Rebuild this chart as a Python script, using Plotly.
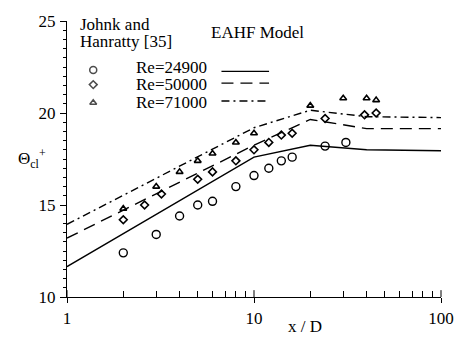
import plotly.graph_objects as go

# ---- data ----
circ_x = [2, 3, 4, 5, 6, 8, 10, 12, 14, 16, 24, 31]
circ_y = [12.4, 13.4, 14.4, 15.0, 15.2, 16.0, 16.6, 17.0, 17.4, 17.6, 18.2, 18.4]
dia_x = [2, 2.6, 3.2, 5, 6, 8, 10, 12, 14, 16, 24, 39, 45]
dia_y = [14.2, 15.0, 15.6, 16.4, 16.8, 17.4, 18.0, 18.4, 18.8, 18.9, 19.7, 19.9, 20.0]
tri_x = [2, 3, 4, 5, 6, 8, 10, 20, 30, 40, 45]
tri_y = [14.8, 16.0, 16.8, 17.4, 17.8, 18.4, 18.9, 20.4, 20.8, 20.8, 20.7]

model_x = [1, 10, 20, 40, 100]
sol_y = [11.65, 17.6, 18.25, 18.0, 17.95]
dash_y = [13.2, 18.25, 19.65, 19.15, 19.15]
dd_y = [13.95, 19.2, 20.15, 19.8, 19.75]

re_labels = ["Re=24900", "Re=50000", "Re=71000"]
x_ticks = [1, 10, 100]
y_ticks = [10, 15, 20, 25]

FONT = "Liberation Serif"
W, H = 466, 340
L, R, T, B = 67, 14, 15, 43
PW, PH = W - L - R, H - T - B


def px(x):
    return (x - L) / PW


def py(y):
    return (H - B - y) / PH


fig = go.Figure()

line_w = 1.4
fig.add_trace(go.Scatter(x=model_x, y=sol_y, mode="lines",
                         line=dict(color="black", width=line_w), showlegend=False))
fig.add_trace(go.Scatter(x=model_x, y=dash_y, mode="lines",
                         line=dict(color="black", width=line_w, dash="12px,7px"), showlegend=False))
fig.add_trace(go.Scatter(x=model_x, y=dd_y, mode="lines",
                         line=dict(color="black", width=line_w, dash="8px,4px,2px,4px"), showlegend=False))
fig.add_trace(go.Scatter(x=circ_x, y=circ_y, mode="markers",
                         marker=dict(symbol="circle-open", size=8, color="black", line=dict(width=1.4)),
                         showlegend=False))
fig.add_trace(go.Scatter(x=dia_x, y=dia_y, mode="markers",
                         marker=dict(symbol="diamond-open", size=6, color="black", line=dict(width=1.6)),
                         showlegend=False))
fig.add_trace(go.Scatter(x=tri_x, y=tri_y, mode="markers",
                         marker=dict(symbol="triangle-up-open", size=6, color="black", line=dict(width=1.6)),
                         showlegend=False))

# ---- legend (overlay axis in pixel coordinates) ----
mark_rows = [65, 80, 98.5]
line_rows = [66.5, 78.5, 96.7]
text_rows = [62, 80, 98]
fig.add_trace(go.Scatter(x=[94, 94, 94], y=mark_rows, mode="markers", xaxis="x2", yaxis="y2",
                         marker=dict(symbol=["circle-open", "diamond-open", "triangle-up-open"],
                                     size=[7, 6, 6], color="black", line=dict(width=1.5)),
                         showlegend=False, cliponaxis=False))
for yy, d in zip(line_rows, ["solid", "12px,7px", "8px,4px,2px,4px"]):
    fig.add_trace(go.Scatter(x=[226, 275], y=[yy, yy], mode="lines", xaxis="x2", yaxis="y2",
                             line=dict(color="black", width=line_w, dash=d),
                             showlegend=False, cliponaxis=False))

ann = []
ann.append(dict(text="Johnk and", x=px(78), y=py(19), xref="paper", yref="paper",
                xanchor="left", yanchor="middle", showarrow=False, font=dict(size=17)))
ann.append(dict(text="Hanratty [35]", x=px(78), y=py(36), xref="paper", yref="paper",
                xanchor="left", yanchor="middle", showarrow=False, font=dict(size=17)))
ann.append(dict(text="EAHF Model", x=px(213), y=py(27), xref="paper", yref="paper",
                xanchor="left", yanchor="middle", showarrow=False, font=dict(size=17)))
for yy, lab in zip(text_rows, re_labels):
    ann.append(dict(text=lab, x=px(136), y=py(yy), xref="paper", yref="paper",
                    xanchor="left", yanchor="middle", showarrow=False, font=dict(size=17)))
ann.append(dict(text="x / D", x=px(312), y=py(327), xref="paper", yref="paper",
                xanchor="center", yanchor="middle", showarrow=False, font=dict(size=17)))
ann.append(dict(text="Θ<sub>cl</sub><sup>+</sup>", x=px(31), y=py(155), xref="paper", yref="paper",
                xanchor="center", yanchor="middle", showarrow=False, font=dict(size=17)))

# inside parts of the major x ticks
shapes = []
for xv in [0, 0.5, 1]:
    shapes.append(dict(type="line", xref="paper", yref="paper", x0=xv, x1=xv, y0=0, y1=7 / PH,
                       line=dict(color="black", width=1)))

fig.update_layout(
    width=W, height=H,
    margin=dict(l=L, r=R, t=T, b=B),
    paper_bgcolor="white", plot_bgcolor="white",
    font=dict(family=FONT, size=17, color="black"),
    annotations=ann, shapes=shapes,
    xaxis=dict(type="log", range=[0, 2], tickvals=x_ticks, ticktext=[str(v) for v in x_ticks],
               ticks="outside", ticklen=5, tickwidth=1, tickcolor="black",
               showline=True, linecolor="black", linewidth=1, showgrid=False, zeroline=False,
               minor=dict(tickvals=[2, 3, 4, 5, 6, 7, 8, 9, 20, 30, 40, 50, 60, 70, 80, 90],
                          ticks="inside", ticklen=6, tickwidth=1, tickcolor="black", showgrid=False),
               tickfont=dict(size=17), ticklabelstandoff=1),
    yaxis=dict(range=[10, 25], tickvals=y_ticks, ticks="outside", ticklen=6, tickwidth=1,
               tickcolor="black", showline=True, linecolor="black", linewidth=1,
               showgrid=False, zeroline=False,
               minor=dict(dtick=0.5, ticks="outside", ticklen=3, tickwidth=1, tickcolor="black",
                          showgrid=False),
               tickfont=dict(size=17), ticklabelstandoff=1),
    xaxis2=dict(range=[L, W - R], overlaying="x", visible=False, showgrid=False, zeroline=False),
    yaxis2=dict(range=[H - B, T], overlaying="y", visible=False, showgrid=False, zeroline=False),
    showlegend=False,
)

fig.write_html("out.html")
